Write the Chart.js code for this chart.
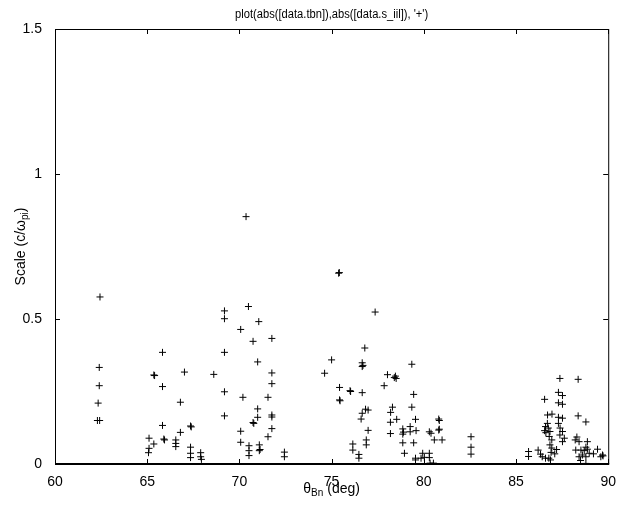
<!DOCTYPE html>
<html>
<head>
<meta charset="utf-8">
<script src="https://cdn.jsdelivr.net/npm/chart.js@4/dist/chart.umd.min.js"></script>
<style>
  html, body { margin: 0; padding: 0; background: #fff; }
  #wrap { width: 618px; height: 506px; position: relative; }
</style>
</head>
<body>
<div id="wrap"><canvas id="grafico"></canvas></div>
<script>
// valores
const xTicks = [60, 65, 70, 75, 80, 85, 90];
const yTicks = [0, 0.5, 1, 1.5];

const tbn = [
  62.44, 62.40, 62.40, 62.34, 62.30, 62.42,
  65.10, 65.36, 65.10, 65.07, 65.36, 65.40, 65.83, 65.83, 65.83, 65.90, 65.94,
  66.55, 66.55, 66.55, 66.80, 66.80, 67.02, 67.35, 67.39, 67.35, 67.35, 67.35,
  67.90, 67.90, 67.94, 68.61,
  69.19, 69.19, 69.19, 69.19, 69.19, 70.36, 70.49, 71.05, 70.07, 70.74, 71.76,
  70.99, 71.76, 71.76, 70.19, 71.55, 70.99, 70.99, 70.74, 70.78, 71.76, 71.76,
  71.76, 71.55, 70.07, 70.07, 70.52, 70.52, 70.52, 71.08, 71.08, 71.12, 72.44, 72.44,
  75.38, 75.42, 77.36, 76.80, 75.00, 76.66, 76.66, 76.70, 74.62, 79.35, 78.03,
  78.46, 78.50, 78.40, 77.85, 75.43, 76.00, 76.03, 76.66, 75.43, 75.46, 79.45,
  79.35, 76.84, 76.98, 76.66, 76.60, 78.30, 78.20, 78.53, 78.19, 79.55, 76.98,
  78.19, 78.86, 78.86, 78.90, 79.26, 79.26, 79.58, 76.88, 76.88, 76.15, 76.15,
  76.48, 76.48, 78.86, 79.45, 78.95, 79.55, 79.55, 79.94, 79.85, 80.03, 80.30,
  80.39, 80.57, 80.99, 80.81, 80.84, 80.81, 80.84, 80.30, 80.30, 80.34, 80.52,
  82.56, 82.56, 82.56,
  85.68, 85.68, 86.20, 86.33, 86.42, 86.60, 86.78, 86.87, 86.55, 86.71, 86.95,
  87.38, 87.30, 87.52, 87.30, 87.52, 87.30, 87.52, 86.70, 86.60, 86.55, 86.62,
  86.75, 86.84, 86.80, 86.94, 86.84, 86.94, 87.30, 87.39, 87.52, 87.38, 87.62,
  87.52, 87.20, 87.10, 86.90, 88.37, 88.37, 88.79, 88.30, 88.21, 88.42, 88.87,
  88.79, 88.87, 88.24, 88.52, 88.70, 88.97, 88.60, 88.42, 88.79, 89.42, 89.69,
  89.60, 89.72, 88.79, 88.50, 89.20
];

const sIil = [
  0.576, 0.333, 0.270, 0.210, 0.150, 0.150,
  0.089, 0.069, 0.054, 0.039, 0.307, 0.305, 0.385, 0.267, 0.133, 0.086, 0.083,
  0.083, 0.071, 0.060, 0.213, 0.109, 0.317, 0.131, 0.128, 0.058, 0.037, 0.022,
  0.039, 0.025, 0.016, 0.309,
  0.528, 0.501, 0.385, 0.249, 0.166, 0.853, 0.543, 0.491, 0.464, 0.423, 0.433,
  0.352, 0.314, 0.277, 0.230, 0.230, 0.190, 0.161, 0.143, 0.140, 0.169, 0.162,
  0.122, 0.094, 0.113, 0.075, 0.063, 0.046, 0.029, 0.066, 0.046, 0.050, 0.041, 0.025,
  0.658, 0.660, 0.524, 0.400, 0.359, 0.349, 0.336, 0.340, 0.313, 0.344, 0.308,
  0.303, 0.295, 0.298, 0.270, 0.264, 0.253, 0.250, 0.246, 0.221, 0.218, 0.240,
  0.196, 0.189, 0.186, 0.175, 0.155, 0.196, 0.178, 0.154, 0.144, 0.154, 0.116,
  0.105, 0.121, 0.103, 0.110, 0.129, 0.111, 0.115, 0.083, 0.066, 0.069, 0.048,
  0.033, 0.020, 0.073, 0.073, 0.037, 0.020, 0.014, 0.037, 0.020, 0.023, 0.111,
  0.106, 0.083, 0.083, 0.155, 0.150, 0.117, 0.120, 0.037, 0.022, 0.003, 0.003,
  0.094, 0.058, 0.034,
  0.043, 0.026, 0.048, 0.034, 0.025, 0.020, 0.020, 0.014, 0.223, 0.169, 0.172,
  0.295, 0.247, 0.236, 0.211, 0.206, 0.161, 0.158, 0.140, 0.129, 0.115, 0.108,
  0.124, 0.112, 0.095, 0.083, 0.066, 0.055, 0.140, 0.124, 0.112, 0.100, 0.089,
  0.077, 0.050, 0.035, 0.040, 0.292, 0.166, 0.145, 0.093, 0.083, 0.077, 0.077,
  0.058, 0.051, 0.048, 0.048, 0.046, 0.037, 0.031, 0.025, 0.025, 0.051, 0.031,
  0.025, 0.028, 0.002, 0.012, 0.035
];

const titulo = "plot(abs([data.tbn]),abs([data.s_iil]), '+')";
const fonte = "'Liberation Sans', Arial, Helvetica, sans-serif";

const pontos = tbn.map((t, i) => ({ x: t, y: sIil[i] }));

// texto com subscrito: partes [texto, ehSubscrito]
function medirPartes(ctx, partes, tam, tamSub) {
  let w = 0;
  partes.forEach(p => {
    ctx.font = `${p[1] ? tamSub : tam}px ${fonte}`;
    w += ctx.measureText(p[0]).width;
  });
  return w;
}

function desenharPartes(ctx, partes, x0, y0, tam, tamSub, desloc) {
  let x = x0;
  partes.forEach(p => {
    ctx.font = `${p[1] ? tamSub : tam}px ${fonte}`;
    ctx.fillText(p[0], x, p[1] ? y0 + desloc : y0);
    x += ctx.measureText(p[0]).width;
  });
}

const moldura = {
  id: 'moldura',
  afterDraw(chart) {
    const { ctx, chartArea: a, scales: { x, y } } = chart;
    ctx.save();
    ctx.strokeStyle = '#000';
    ctx.lineWidth = 1;
    ctx.strokeRect(a.left + 0.5, a.top + 0.5, a.right - a.left, a.bottom - a.top);
    // eixo de baixo um pouco mais grosso, como no original
    ctx.beginPath();
    ctx.moveTo(a.left, a.bottom - 0.5);
    ctx.lineTo(a.right + 1, a.bottom - 0.5);
    ctx.stroke();

    // marcas internas, estilo matlab
    const tl = 5;
    ctx.beginPath();
    xTicks.forEach(v => {
      const px = Math.round(x.getPixelForValue(v)) + 0.5;
      ctx.moveTo(px, a.bottom); ctx.lineTo(px, a.bottom - tl);
      ctx.moveTo(px, a.top); ctx.lineTo(px, a.top + tl);
    });
    yTicks.forEach(v => {
      const py = Math.round(y.getPixelForValue(v)) + 0.5;
      ctx.moveTo(a.left, py); ctx.lineTo(a.left + tl, py);
      ctx.moveTo(a.right, py); ctx.lineTo(a.right - tl, py);
    });
    ctx.stroke();

    ctx.fillStyle = '#000';
    ctx.textBaseline = 'alphabetic';
    ctx.textAlign = 'left';

    // titulo (fonte do matlab e mais estreita)
    ctx.save();
    ctx.font = `12px ${fonte}`;
    const wt = ctx.measureText(titulo).width * 0.93;
    ctx.translate((a.left + a.right) / 2 - wt / 2, 18);
    ctx.scale(0.93, 1);
    ctx.fillText(titulo, 0, 0);
    ctx.restore();

    // rotulo x
    const px = [['\u03b8', false], ['Bn', true], [' (deg)', false]];
    const wx = medirPartes(ctx, px, 14, 10);
    desenharPartes(ctx, px, (a.left + a.right) / 2 - wx / 2, 493, 14, 10, 3);

    // rotulo y
    const py = [['Scale (c/\u03c9', false], ['pi', true], [')', false]];
    const wy = medirPartes(ctx, py, 14, 10);
    ctx.translate(25, (a.top + a.bottom) / 2);
    ctx.rotate(-Math.PI / 2);
    desenharPartes(ctx, py, -wy / 2, 0, 14, 10, 3);
    ctx.restore();
  }
};

new Chart(document.getElementById('grafico'), {
  type: 'scatter',
  data: {
    datasets: [{
      data: pontos,
      pointStyle: 'cross',
      pointRadius: 3.5,
      pointBorderWidth: 1,
      pointBorderColor: '#000',
      pointBackgroundColor: '#000'
    }]
  },
  options: {
    responsive: true,
    maintainAspectRatio: false,
    animation: false,
    layout: { padding: { top: 29, right: 6, left: 0, bottom: 0 } },
    plugins: {
      legend: { display: false },
      title: { display: false },
      tooltip: { enabled: false }
    },
    scales: {
      x: {
        type: 'linear',
        min: 60, max: 90,
        afterBuildTicks: s => { s.ticks = xTicks.map(v => ({ value: v })); },
        afterFit: s => { s.height = 42; },
        grid: { display: false },
        border: { display: false },
        ticks: { color: '#000', padding: 2, font: { size: 14, family: fonte }, callback: v => String(v) }
      },
      y: {
        type: 'linear',
        min: 0, max: 1.5,
        afterBuildTicks: s => { s.ticks = yTicks.map(v => ({ value: v })); },
        afterFit: s => { s.width = 55; },
        grid: { display: false },
        border: { display: false },
        ticks: { color: '#000', padding: 5, font: { size: 14, family: fonte }, callback: v => String(v) }
      }
    }
  },
  plugins: [moldura]
});
</script>
</body>
</html>
